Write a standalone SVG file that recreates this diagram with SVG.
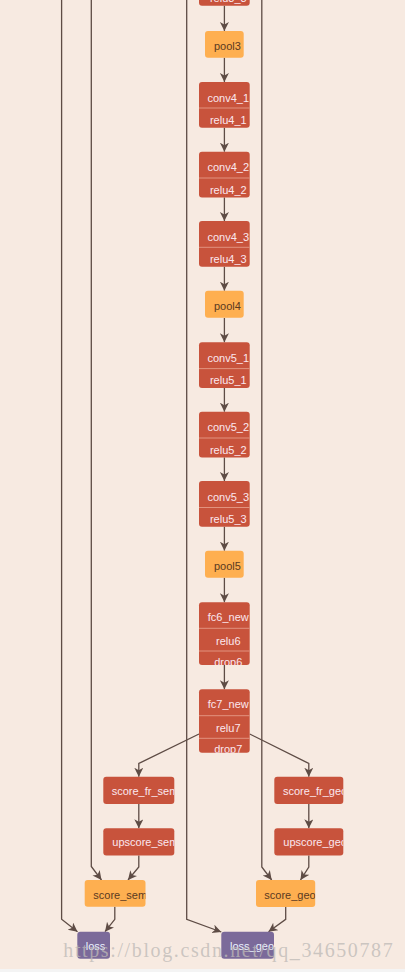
<svg xmlns="http://www.w3.org/2000/svg" width="405" height="972" viewBox="0 0 405 972">
<style>
.bg{fill:#F7EAE1}
.red{fill:#C8533C}
.org{fill:#FEAF50}
.pur{fill:#7B6A9A}
.div{stroke:#E2937F;stroke-width:1}
.tr{font-family:"Liberation Sans",Arial,sans-serif;font-size:11px;fill:#FBE7EF}
.to{font-family:"Liberation Sans",Arial,sans-serif;font-size:11px;fill:#5A3A22}
.tp{font-family:"Liberation Sans",Arial,sans-serif;font-size:11px;fill:#EAF2FF}
.e{fill:none;stroke:#5E4C45;stroke-width:1.3}
.wm{font-family:"Liberation Serif","DejaVu Serif",serif;font-size:20px;fill:#BDB9B6;fill-opacity:0.75}
</style>
<defs>
<marker id="ah" markerUnits="userSpaceOnUse" markerWidth="10" markerHeight="10" refX="9" refY="4.5" orient="auto">
<path d="M0,0 L9,4.5 L0,9 L2.5,4.5 z" fill="#5E4C45"/>
</marker>
<clipPath id="c_relu33"><rect x="199" y="-40" width="50.7" height="45.7" rx="3"/></clipPath>
<clipPath id="c_conv41"><rect x="199" y="82" width="50.7" height="45.7"/></clipPath>
<clipPath id="c_conv42"><rect x="199" y="151.7" width="50.7" height="45.7"/></clipPath>
<clipPath id="c_conv43"><rect x="199" y="221" width="50.7" height="45.7"/></clipPath>
<clipPath id="c_conv51"><rect x="199" y="342.3" width="50.7" height="45.7"/></clipPath>
<clipPath id="c_conv52"><rect x="199" y="411.7" width="50.7" height="45.7"/></clipPath>
<clipPath id="c_conv53"><rect x="199" y="481" width="50.7" height="45.7"/></clipPath>
<clipPath id="c_fc6"><rect x="199" y="602.3" width="50.7" height="62.7"/></clipPath>
<clipPath id="c_fc7"><rect x="199" y="689.3" width="50.7" height="63.4"/></clipPath>
<clipPath id="c_sfs"><rect x="103.3" y="776.7" width="71" height="27.3"/></clipPath>
<clipPath id="c_ups"><rect x="103.3" y="828.3" width="71" height="27.3"/></clipPath>
<clipPath id="c_sfg"><rect x="274.3" y="776.7" width="69" height="27.3"/></clipPath>
<clipPath id="c_upg"><rect x="274.3" y="828.3" width="69" height="27.3"/></clipPath>
<clipPath id="c_ss"><rect x="84.7" y="880" width="60.8" height="26.8"/></clipPath>
<clipPath id="c_sg"><rect x="256" y="880" width="59.2" height="27"/></clipPath>
<clipPath id="c_lg"><rect x="221.3" y="931.7" width="52.7" height="27"/></clipPath>
</defs>
<rect class="bg" x="0" y="0" width="405" height="972"/>
<rect x="0" y="969" width="405" height="3" fill="#F4F4F4"/>

<g id="connectors">
<path class="e" d="M224.4,5.7 L224.4,31" marker-end="url(#ah)"/>
<path class="e" d="M224.4,57.7 L224.4,82" marker-end="url(#ah)"/>
<path class="e" d="M224.4,127.7 L224.4,151.7" marker-end="url(#ah)"/>
<path class="e" d="M224.4,197.4 L224.4,221" marker-end="url(#ah)"/>
<path class="e" d="M224.4,266.7 L224.4,290.7" marker-end="url(#ah)"/>
<path class="e" d="M224.4,318 L224.4,342.3" marker-end="url(#ah)"/>
<path class="e" d="M224.4,388 L224.4,411.7" marker-end="url(#ah)"/>
<path class="e" d="M224.4,457.4 L224.4,481" marker-end="url(#ah)"/>
<path class="e" d="M224.4,526.7 L224.4,550.7" marker-end="url(#ah)"/>
<path class="e" d="M224.4,577.7 L224.4,602.3" marker-end="url(#ah)"/>
<path class="e" d="M224.4,665 L224.4,689.3" marker-end="url(#ah)"/>
<path class="e" d="M199,734 L138.8,763.5 L138.8,776.7" marker-end="url(#ah)"/>
<path class="e" d="M249.7,734 L308.8,763.5 L308.8,776.7" marker-end="url(#ah)"/>
<path class="e" d="M138.8,804 L138.8,828.3" marker-end="url(#ah)"/>
<path class="e" d="M308.8,804 L308.8,828.3" marker-end="url(#ah)"/>
<path class="e" d="M138.8,855.6 L138.8,867 L128,880" marker-end="url(#ah)"/>
<path class="e" d="M91.3,0 L91.3,866.5 L101.5,880" marker-end="url(#ah)"/>
<path class="e" d="M308.8,855.6 L308.8,867 L300.5,880" marker-end="url(#ah)"/>
<path class="e" d="M261.8,0 L261.8,867 L271.7,880" marker-end="url(#ah)"/>
<path class="e" d="M114.8,906.8 L114.8,919.3 L105,931.7" marker-end="url(#ah)"/>
<path class="e" d="M61.6,0 L61.6,919.3 L77.5,931.7" marker-end="url(#ah)"/>
<path class="e" d="M285.7,907 L285.7,919.3 L268.5,931.7" marker-end="url(#ah)"/>
<path class="e" d="M186.7,0 L186.7,919.3 L221.3,932" marker-end="url(#ah)"/>
</g>

<g id="relu3_3">
<rect class="red" x="199" y="-40" width="50.7" height="45.7" rx="3"/>
<text class="tr" x="228.3" y="2" text-anchor="middle" clip-path="url(#c_relu33)">relu3_3</text>
</g>
<g id="pool3">
<rect class="org" x="205" y="31" width="38.7" height="26.7" rx="3"/>
<text class="to" x="227.4" y="50" text-anchor="middle">pool3</text>
</g>
<g id="conv4_1">
<rect class="red" x="199" y="82" width="50.7" height="45.7" rx="3"/>
<line class="div" x1="199" y1="108" x2="249.7" y2="108"/>
<g clip-path="url(#c_conv41)"><text class="tr" x="228.3" y="101.5" text-anchor="middle">conv4_1</text><text class="tr" x="228.3" y="124" text-anchor="middle">relu4_1</text></g>
</g>
<g id="conv4_2">
<rect class="red" x="199" y="151.7" width="50.7" height="45.7" rx="3"/>
<line class="div" x1="199" y1="178" x2="249.7" y2="178"/>
<g clip-path="url(#c_conv42)"><text class="tr" x="228.3" y="171.2" text-anchor="middle">conv4_2</text><text class="tr" x="228.3" y="193.5" text-anchor="middle">relu4_2</text></g>
</g>
<g id="conv4_3">
<rect class="red" x="199" y="221" width="50.7" height="45.7" rx="3"/>
<line class="div" x1="199" y1="247.3" x2="249.7" y2="247.3"/>
<g clip-path="url(#c_conv43)"><text class="tr" x="228.3" y="240.5" text-anchor="middle">conv4_3</text><text class="tr" x="228.3" y="262.8" text-anchor="middle">relu4_3</text></g>
</g>
<g id="pool4">
<rect class="org" x="205" y="290.7" width="38.7" height="27" rx="3"/>
<text class="to" x="227.4" y="309.8" text-anchor="middle">pool4</text>
</g>
<g id="conv5_1">
<rect class="red" x="199" y="342.3" width="50.7" height="45.7" rx="3"/>
<line class="div" x1="199" y1="368.6" x2="249.7" y2="368.6"/>
<g clip-path="url(#c_conv51)"><text class="tr" x="228.3" y="361.8" text-anchor="middle">conv5_1</text><text class="tr" x="228.3" y="384.1" text-anchor="middle">relu5_1</text></g>
</g>
<g id="conv5_2">
<rect class="red" x="199" y="411.7" width="50.7" height="45.7" rx="3"/>
<line class="div" x1="199" y1="438" x2="249.7" y2="438"/>
<g clip-path="url(#c_conv52)"><text class="tr" x="228.3" y="431.2" text-anchor="middle">conv5_2</text><text class="tr" x="228.3" y="453.5" text-anchor="middle">relu5_2</text></g>
</g>
<g id="conv5_3">
<rect class="red" x="199" y="481" width="50.7" height="45.7" rx="3"/>
<line class="div" x1="199" y1="507.5" x2="249.7" y2="507.5"/>
<g clip-path="url(#c_conv53)"><text class="tr" x="228.3" y="500.5" text-anchor="middle">conv5_3</text><text class="tr" x="228.3" y="522.8" text-anchor="middle">relu5_3</text></g>
</g>
<g id="pool5">
<rect class="org" x="205" y="550.7" width="38.7" height="27" rx="3"/>
<text class="to" x="227.4" y="569.8" text-anchor="middle">pool5</text>
</g>
<g id="fc6_new">
<rect class="red" x="199" y="602.3" width="50.7" height="62.7" rx="3"/>
<line class="div" x1="199" y1="628.3" x2="249.7" y2="628.3"/>
<line class="div" x1="199" y1="651" x2="249.7" y2="651"/>
<g clip-path="url(#c_fc6)"><text class="tr" x="228.3" y="620.5" text-anchor="middle">fc6_new</text><text class="tr" x="228.3" y="644.5" text-anchor="middle">relu6</text><text class="tr" x="228.3" y="665.5" text-anchor="middle">drop6</text></g>
</g>
<g id="fc7_new">
<rect class="red" x="199" y="689.3" width="50.7" height="63.4" rx="3"/>
<line class="div" x1="199" y1="715.7" x2="249.7" y2="715.7"/>
<line class="div" x1="199" y1="738.3" x2="249.7" y2="738.3"/>
<g clip-path="url(#c_fc7)"><text class="tr" x="228.3" y="708" text-anchor="middle">fc7_new</text><text class="tr" x="228.3" y="731.5" text-anchor="middle">relu7</text><text class="tr" x="228.3" y="753" text-anchor="middle">drop7</text></g>
</g>
<g id="score_fr_sem">
<rect class="red" x="103.3" y="776.7" width="71" height="27.3" rx="3"/>
<text class="tr" x="111.7" y="794.5" clip-path="url(#c_sfs)">score_fr_sem</text>
</g>
<g id="upscore_sem">
<rect class="red" x="103.3" y="828.3" width="71" height="27.3" rx="3"/>
<text class="tr" x="112.3" y="846" clip-path="url(#c_ups)">upscore_sem</text>
</g>
<g id="score_fr_geo">
<rect class="red" x="274.3" y="776.7" width="69" height="27.3" rx="3"/>
<text class="tr" x="283" y="794.5" clip-path="url(#c_sfg)">score_fr_geo</text>
</g>
<g id="upscore_geo">
<rect class="red" x="274.3" y="828.3" width="69" height="27.3" rx="3"/>
<text class="tr" x="283.3" y="846" clip-path="url(#c_upg)">upscore_geo</text>
</g>
<g id="score_sem">
<rect class="org" x="84.7" y="880" width="60.8" height="26.8" rx="3"/>
<text class="to" x="93.3" y="899" clip-path="url(#c_ss)">score_sem</text>
</g>
<g id="score_geo">
<rect class="org" x="256" y="880" width="59.2" height="27" rx="3"/>
<text class="to" x="264.3" y="899" clip-path="url(#c_sg)">score_geo</text>
</g>
<g id="loss">
<rect class="pur" x="77.3" y="931.7" width="32.7" height="27" rx="3"/>
<text class="tp" x="85.7" y="950">loss</text>
</g>
<g id="loss_geo">
<rect class="pur" x="221.3" y="931.7" width="52.7" height="27" rx="3"/>
<text class="tp" x="230" y="950" clip-path="url(#c_lg)">loss_geo</text>
</g>
<text class="wm" x="63.3" y="957" textLength="329.4" lengthAdjust="spacing">https://blog.csdn.net/qq_34650787</text>
</svg>
